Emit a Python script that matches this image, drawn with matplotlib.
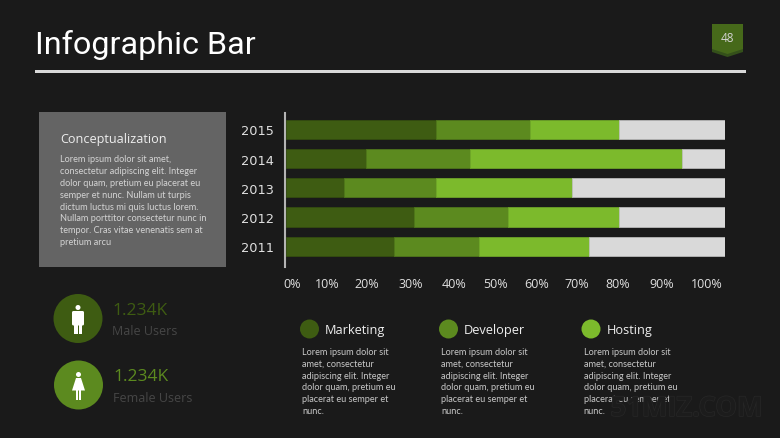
import numpy as np
import matplotlib
matplotlib.use("Agg")
import matplotlib.pyplot as plt
import matplotlib.patheffects as pe
from matplotlib.patches import Rectangle, Circle, Polygon, FancyBboxPatch

W, H = 780, 439
BG = "#1a1a1a"
DARK = "#3e5c12"
MID = "#5c8a1f"
LIGHT = "#7cba2c"
REST = "#d9d9d9"

years = ["2011", "2012", "2013", "2014", "2015"]
marketing = [24.5, 29.1, 13.1, 18.2, 34.2]
developer = [19.4, 21.5, 21.1, 23.7, 21.4]
hosting = [25.1, 25.2, 30.9, 48.4, 20.2]
remainder = [31.0, 24.2, 34.9, 9.7, 24.2]
tick_labels = ["0%", "10%", "20%", "30%", "40%", "50%", "60%", "70%", "80%", "90%", "100%"]
# the labels sit unevenly under the bars in the original slide
tick_pos = [1.4, 9.3, 18.4, 28.4, 38.2, 47.8, 57.2, 66.3, 75.6, 85.6, 95.9]

lorem_side = ("Lorem ipsum dolor sit amet,\nconsectetur adipiscing elit. Integer\n"
              "dolor quam, pretium eu placerat eu\nsemper et nunc. Nullam ut turpis\n"
              "dictum luctus mi quis luctus lorem.\nNullam porttitor consectetur nunc in\n"
              "tempor. Cras vitae venenatis sem at\npretium arcu")
lorem_col = ("Lorem ipsum dolor sit\namet, consectetur\nadipiscing elit. Integer\n"
             "dolor quam, pretium eu\nplacerat eu semper et\nnunc.")

fig = plt.figure(figsize=(W / 100, H / 100), dpi=100, facecolor=BG)

# overlay in pixel coordinates for everything round the chart
bg = fig.add_axes([0, 0, 1, 1])
bg.set_xlim(0, W)
bg.set_ylim(H, 0)
bg.axis("off")

bg.text(35, 44.5, "Infographic Bar", color="white", fontsize=23.3, family="Roboto", va="center")
bg.add_patch(Rectangle((35, 70.5), 711, 3, color="#d9d9d9", lw=0))

# page badge
bg.add_patch(Polygon([(712, 25), (743, 25), (743, 53), (727.5, 58), (712, 53)], color="#34501a", lw=0))
bg.add_patch(Polygon([(712, 25), (743, 25), (743, 50), (727.5, 55), (712, 50)], color="#46691a", lw=0))
bg.text(727.5, 38.5, "48", color="#d4d4d4", fontsize=8.5, family="Open Sans", ha="center", va="center")

# side box
bg.add_patch(Rectangle((39, 113), 186.5, 154.5, color="#646464", lw=0))
bg.text(60, 140, "Conceptualization", color="#eeeeee", fontsize=9.1, family="Open Sans", va="center")
bg.text(60, 155.5, lorem_side, color="#d4d4d4", fontsize=6.55, family="Lato", va="top", linespacing=1.4)


def person(cx, cy, female):
    bg.add_patch(Circle((cx, cy - 11.5), 2.5, color="white", lw=0))
    if female:
        bg.add_patch(Polygon([(cx - 2.5, cy - 8), (cx + 2.5, cy - 8), (cx + 6.5, cy + 4.5), (cx - 6.5, cy + 4.5)],
                             color="white", lw=0))
        bg.add_patch(Rectangle((cx - 2.7, cy + 4), 2.3, 10.5, color="white", lw=0))
        bg.add_patch(Rectangle((cx + 0.4, cy + 4), 2.3, 10.5, color="white", lw=0))
    else:
        bg.add_patch(FancyBboxPatch((cx - 6, cy - 8), 12, 14.5, boxstyle="round,pad=0,rounding_size=1.5",
                                    color="white", lw=0))
        bg.add_patch(Rectangle((cx - 3.8, cy + 4), 3.3, 11, color="white", lw=0))
        bg.add_patch(Rectangle((cx + 0.5, cy + 4), 3.3, 11, color="white", lw=0))


# user stats
bg.add_patch(Circle((78, 319.5), 24.5, color=DARK, lw=0))
person(78, 320, False)
bg.text(112, 311, "1.234K", color=DARK, fontsize=12.5, family="Open Sans", va="center")
bg.text(112, 331.5, "Male Users", color="#464646", fontsize=9, family="Open Sans", va="center")
bg.add_patch(Circle((78.5, 386), 24.5, color=MID, lw=0))
person(78.5, 387, True)
bg.text(113, 377.5, "1.234K", color=MID, fontsize=12.5, family="Open Sans", va="center")
bg.text(113, 398.5, "Female Users", color="#464646", fontsize=9, family="Open Sans", va="center")

# legend columns
for cx, tx, name, col, body_x in [(309.5, 325, "Marketing", DARK, 302.5),
                                  (448.5, 464, "Developer", MID, 441),
                                  (591, 606.5, "Hosting", LIGHT, 583.5)]:
    bg.add_patch(Circle((cx, 330), 9.5, color=col, lw=0))
    bg.text(tx, 330.5, name, color="#eeeeee", fontsize=9.2, family="Open Sans", va="center")
    bg.text(body_x, 348, lorem_col, color="#c8c8c8", fontsize=6.6, family="Lato", va="top", linespacing=1.4)

bg.text(763, 410, "51MIZ.COM", color="#1c1c1c", fontsize=19.6, family="Open Sans", weight="bold",
        ha="right", va="center", path_effects=[pe.withStroke(linewidth=1, foreground="#272727")])

# the chart itself
ax = fig.add_axes([286 / W, 1 - 268 / H, 439 / W, 154 / H], facecolor="none")
y = np.arange(len(years))
left = np.zeros(len(years))
for vals, col, edge in [(marketing, DARK, "#35500f"), (developer, MID, "#527c1b"),
                        (hosting, LIGHT, "#74ae2a"), (remainder, REST, "#c4c4c4")]:
    ax.barh(y, vals, left=left, height=0.66, color=col, edgecolor=edge, linewidth=0.5)
    left += np.array(vals)
ax.set_xlim(0, 100)
ax.set_ylim(-0.708, 4.557)
ax.set_yticks(y, years)
ax.set_xticks(tick_pos, tick_labels)
ax.tick_params(axis="both", length=0, colors="#e0e0e0", labelsize=9.3)
ax.tick_params(axis="y", pad=7.5)
ax.tick_params(axis="x", pad=7.5, labelsize=9)
for lab in ax.get_xticklabels() + ax.get_yticklabels():
    lab.set_family("Open Sans")
for s in ["top", "right", "bottom"]:
    ax.spines[s].set_visible(False)
ax.spines["left"].set_position(("outward", 1))
ax.spines["left"].set_color("#b4b4b4")
ax.spines["left"].set_linewidth(1.5)

fig.savefig("out.png", dpi=100, facecolor=BG)
